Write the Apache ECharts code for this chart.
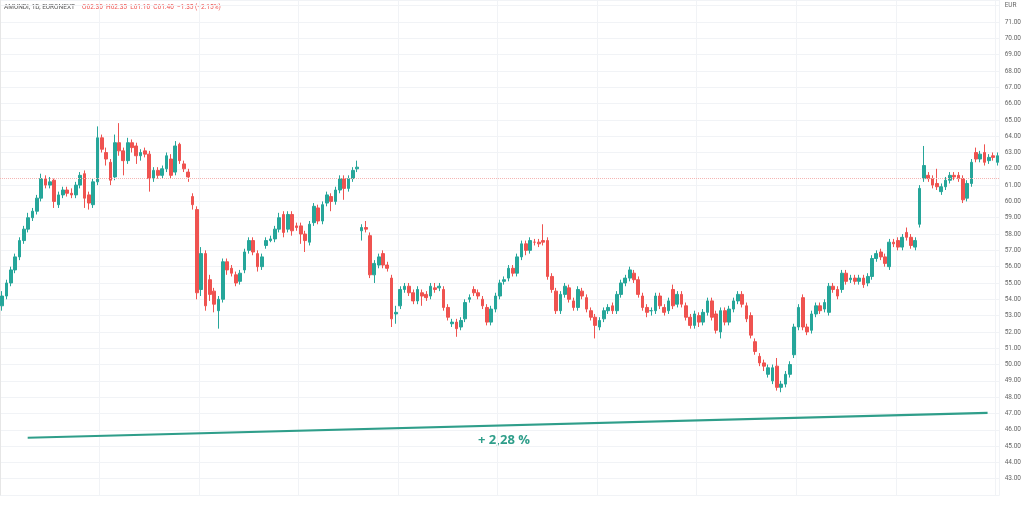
<!DOCTYPE html>
<html><head><meta charset="utf-8">
<script src="https://cdn.jsdelivr.net/npm/echarts@6/dist/echarts.min.js"></script>
<style>html,body{margin:0;padding:0;background:#fff}#c{width:1024px;height:521px}</style>
</head><body><div id="c"></div>
<script>
// rows: [open, close, low, high]
const candles = [
[53.6,54.2,53.3,54.5],[54.2,55.0,54.0,55.2],[55.0,55.8,54.8,56.0],[55.8,56.6,55.6,56.8],[56.6,57.6,56.4,57.8],
[57.6,58.3,57.4,58.5],[58.3,59.0,58.1,59.3],[59.0,59.4,58.8,59.6],[59.4,60.2,59.2,60.4],[60.2,61.4,60.0,61.7],
[61.4,61.0,60.8,61.6],[61.0,61.2,60.8,61.5],[61.3,60.0,59.6,61.4],[59.8,60.4,59.6,60.6],[60.4,60.7,60.2,60.9],
[60.7,60.5,60.3,60.9],[60.5,60.4,60.2,60.8],[60.4,61.0,60.2,61.2],[61.0,61.6,60.8,61.8],[61.7,60.2,59.6,61.9],
[60.4,59.9,59.5,60.6],[59.8,61.2,59.6,61.4],[61.2,63.9,61.0,64.6],[63.9,63.2,63.0,64.1],[63.0,62.6,62.2,63.3],
[62.4,61.3,61.0,62.6],[61.5,63.6,61.3,64.1],[63.6,63.1,62.8,64.8],[63.1,62.5,61.6,63.3],[62.5,63.6,62.3,63.9],
[63.6,63.3,63.0,63.8],[63.4,62.8,62.3,63.6],[62.8,63.0,62.5,63.2],[63.1,62.9,62.7,63.3],[62.9,61.4,60.6,63.1],
[61.4,61.9,61.2,62.1],[61.9,61.6,61.4,62.1],[61.6,62.0,61.4,62.2],[62.0,62.8,61.8,63.0],[62.6,61.6,61.4,62.9],
[61.8,63.4,61.6,63.7],[63.5,62.5,62.3,63.6],[62.3,62.0,61.8,62.5],[61.8,61.5,61.2,62.0],[60.3,59.8,59.5,60.5],
[59.5,54.4,54.0,59.7],[54.6,56.8,54.2,57.2],[56.8,53.6,53.3,57.0],[55.2,54.3,53.9,55.5],[54.5,53.7,53.2,54.7],
[53.3,54.0,52.2,54.2],[54.0,56.3,53.8,56.5],[56.3,55.8,55.5,56.5],[55.9,55.6,55.4,56.1],[55.5,55.0,54.8,55.7],
[55.1,55.6,54.9,55.8],[55.8,56.9,55.6,57.1],[57.0,57.6,56.8,57.8],[57.6,56.9,56.7,57.8],[56.8,56.0,55.7,57.0],
[56.0,56.6,55.8,56.8],[57.3,57.6,57.1,57.8],[57.6,57.7,57.5,57.9],[57.7,58.3,57.5,58.5],[58.3,59.0,58.1,59.3],
[59.2,58.1,57.8,59.4],[58.3,59.2,58.1,59.4],[59.2,58.2,57.9,59.4],[58.5,58.4,58.2,58.7],[58.5,58.0,57.4,58.7],
[58.0,57.6,56.9,58.2],[57.5,58.6,57.3,58.8],[58.7,59.7,58.5,59.9],[59.6,58.8,58.6,59.8],[58.8,59.8,58.6,60.0],
[59.9,60.4,59.7,60.6],[60.3,60.0,59.4,60.5],[60.0,60.7,59.8,60.9],[60.7,61.4,60.5,61.6],[61.4,60.8,60.1,61.6],
[60.8,61.4,60.6,61.6],[61.4,61.9,61.2,62.1],[62.0,62.1,61.8,62.5],[58.2,58.4,57.6,58.6],[58.4,58.3,58.1,58.8],
[57.9,55.5,55.3,58.1],[55.5,56.2,55.0,56.4],[56.1,56.6,55.9,56.8],[56.8,56.1,55.9,57.0],[56.1,55.9,55.7,56.3],
[55.3,52.8,52.3,55.5],[53.1,53.2,52.5,53.6],[53.6,54.6,53.4,54.8],[54.6,54.8,54.4,55.0],[54.8,54.4,54.2,55.0],
[54.4,53.9,53.7,54.6],[53.9,54.6,53.7,54.8],[54.4,54.2,53.6,54.6],[54.3,54.1,53.9,54.5],[54.2,54.8,54.0,55.0],
[54.7,54.6,54.4,55.0],[54.7,54.8,54.5,55.0],[54.6,53.5,53.3,54.8],[53.5,52.9,52.7,53.7],[52.5,52.6,52.3,52.8],
[52.6,52.2,51.7,52.8],[52.3,52.7,52.1,52.9],[52.8,53.8,52.6,54.0],[54.0,54.1,53.8,54.3],[54.6,54.4,54.2,54.8],
[54.4,54.2,54.0,54.6],[54.0,53.6,53.4,54.2],[53.5,52.6,52.4,53.7],[52.6,53.4,52.4,53.6],[53.4,54.2,53.2,54.4],
[54.2,55.0,54.0,55.2],[55.1,55.2,54.9,55.4],[55.3,55.9,55.1,56.1],[55.9,55.6,55.4,56.1],[55.6,56.6,55.4,56.8],
[56.6,57.4,56.4,57.6],[57.4,57.0,56.7,57.6],[57.0,57.6,56.8,57.8],[57.5,57.5,57.3,57.7],[57.5,57.4,57.2,57.7],
[57.6,57.5,57.3,58.6],[57.6,55.4,55.2,57.8],[55.4,54.6,54.4,55.6],[54.5,53.3,53.1,54.7],[53.3,54.3,53.1,54.5],
[54.3,54.8,54.1,55.0],[54.7,54.0,53.8,54.9],[53.9,53.5,53.3,54.1],[53.5,54.6,53.3,54.8],[54.5,54.2,54.0,54.7],
[54.1,53.4,53.2,54.3],[53.3,52.9,52.7,53.5],[52.9,52.4,51.6,53.1],[52.3,52.7,52.1,52.9],[52.8,53.3,52.6,53.5],
[53.3,53.5,53.1,53.7],[53.6,53.3,53.1,53.8],[53.3,54.3,53.1,54.5],[54.3,55.0,54.1,55.2],[55.0,55.3,54.8,55.5],
[55.3,55.8,55.1,56.0],[55.6,55.2,55.0,55.8],[55.2,54.3,54.1,55.4],[54.2,53.5,53.3,54.4],[53.5,53.2,52.9,53.7],
[53.3,53.3,53.0,53.5],[53.3,54.2,53.1,54.4],[54.2,53.6,53.4,54.4],[53.5,53.2,53.0,53.7],[53.3,53.9,53.1,54.1],
[54.6,53.6,53.4,54.9],[53.7,54.3,53.5,54.5],[54.3,53.7,53.5,54.5],[53.6,52.9,52.7,53.8],[52.9,52.4,52.2,53.1],
[52.4,53.1,52.2,53.3],[53.0,52.6,52.3,53.2],[52.6,53.2,52.4,53.4],[53.2,53.9,53.0,54.1],[53.9,52.9,52.7,54.1],
[53.1,52.1,51.9,53.3],[52.0,53.3,51.6,53.5],[53.3,52.6,52.4,53.5],[52.6,53.4,52.4,53.6],[53.4,53.9,53.2,54.1],
[53.9,54.3,53.7,54.5],[54.3,53.7,53.5,54.5],[53.6,52.8,52.6,53.8],[53.0,51.8,51.6,53.2],[51.4,50.8,50.6,51.6],
[50.5,50.1,49.9,50.7],[50.1,49.9,49.6,50.3],[49.4,49.8,49.2,50.0],[49.0,49.8,48.8,50.0],[49.9,48.6,48.4,50.4],
[48.6,48.8,48.3,49.0],[48.8,49.4,48.6,49.6],[49.4,50.0,49.2,50.2],[50.6,52.3,50.4,52.5],[52.3,53.5,52.1,53.7],
[54.1,52.3,52.1,54.3],[52.3,52.0,51.8,52.5],[52.1,53.1,51.9,53.3],[53.1,53.6,52.9,53.8],[53.6,53.3,53.1,53.8],
[53.4,53.8,53.2,54.0],[53.2,54.8,53.0,55.0],[54.8,54.6,54.4,55.0],[54.6,54.2,54.0,54.8],[54.6,55.6,54.4,55.8],
[55.6,55.1,54.9,55.8],[55.2,55.3,55.0,55.5],[55.3,55.1,54.9,55.5],[55.1,55.3,54.9,55.5],[55.3,54.9,54.7,55.5],
[55.0,55.4,54.8,55.6],[55.4,56.5,55.2,56.7],[56.5,56.8,56.3,57.0],[56.9,56.6,56.4,57.1],[56.6,56.2,56.0,56.8],
[56.0,57.5,55.8,57.7],[57.5,57.4,57.2,57.7],[57.6,57.2,57.0,57.8],[57.2,57.8,57.0,58.0],[58.1,57.8,57.6,58.4],
[57.8,57.3,57.1,58.0],[57.2,57.6,57.0,57.8],[58.6,60.8,58.4,61.0],[61.4,62.2,61.2,63.4],[61.6,61.4,61.2,61.8],
[61.4,61.0,60.8,61.6],[61.1,60.9,60.7,62.0],[60.6,60.9,60.4,61.1],[60.9,61.3,60.7,61.5],[61.3,61.6,61.1,61.8],
[61.6,61.5,61.3,61.8],[61.6,61.4,61.2,61.8],[61.4,60.1,59.9,61.6],[60.2,61.1,60.0,61.3],[61.1,62.4,60.9,62.6],
[63.0,62.6,62.4,63.3],[62.6,62.9,62.4,63.1],[63.0,62.4,62.2,63.5],[62.5,62.7,62.3,62.9],[62.8,62.7,62.5,63.0],
[62.4,62.8,62.2,63.0]
];
const categories = candles.map((_, i) => i);
const yTicksMin = 42, yTicksMax = 72.35;
const trendX = [6.4, 228.2];
const trendY = [45.51, 47.04];
const trendLabel = '+ 2,28 %';
const lastPrice = 61.40;
const header = 'AMUNDI, 1D, EURONEXT';
const ohlc = 'O62.30  H62.35  L61.10  C61.40  −1.35 (−2.15%)';

const chart = echarts.init(document.getElementById('c'));
chart.setOption({
  animation: false,
  grid: {left: 0, right: 21, top: 0, bottom: 26},
  xAxis: [
    {type: 'category', data: categories, boundaryGap: true,
     axisLine: {show: false}, axisTick: {show: false}, axisLabel: {show: false},
     splitLine: {show: true, interval: 22, lineStyle: {color: '#f1f3f6'}}},
    {type: 'value', min: 0, max: candles.length, show: false}
  ],
  yAxis: {type: 'value', position: 'right', min: yTicksMin, max: yTicksMax, interval: 1, scale: true,
    axisLine: {show: true, lineStyle: {color: '#e6e6e6'}}, axisTick: {show: false},
    splitLine: {lineStyle: {color: '#f1f3f6'}},
    axisLabel: {fontSize: 6.5, color: '#666', margin: 5, fontFamily: 'Roboto',
      formatter: v => v === 42 ? '' : (v === 72 ? 'EUR' : v.toFixed(2))}},
  series: [
    {type: 'candlestick', data: candles, barWidth: 3.2,
     itemStyle: {color: '#26a69a', color0: '#ef5350', borderColor: '#26a69a', borderColor0: '#ef5350', borderWidth: 1},
     markLine: {silent: true, symbol: 'none', label: {show: false},
       lineStyle: {color: '#f5b5b3', type: 'dotted', width: 1}, data: [{yAxis: lastPrice}]}},
    {type: 'line', xAxisIndex: 1, data: [[trendX[0], trendY[0]], [trendX[1], trendY[1]]],
     symbol: 'none', lineStyle: {color: '#2f9e8a', width: 2.2}}
  ],
  graphic: [
    {type: 'text', left: 4, top: 4, style: {text: header, fontSize: 6.5, fill: '#555', fontFamily: 'Roboto'}},
    {type: 'text', left: 82, top: 4, style: {text: ohlc, fontSize: 6.5, fill: '#ef5350', fontFamily: 'Roboto'}},
    {type: 'text', left: 478, top: 434, style: {text: trendLabel, fontSize: 13, fontWeight: 'bold', fill: '#2f9e8a', fontFamily: 'Open Sans'}}
  ]
});
</script></body></html>
